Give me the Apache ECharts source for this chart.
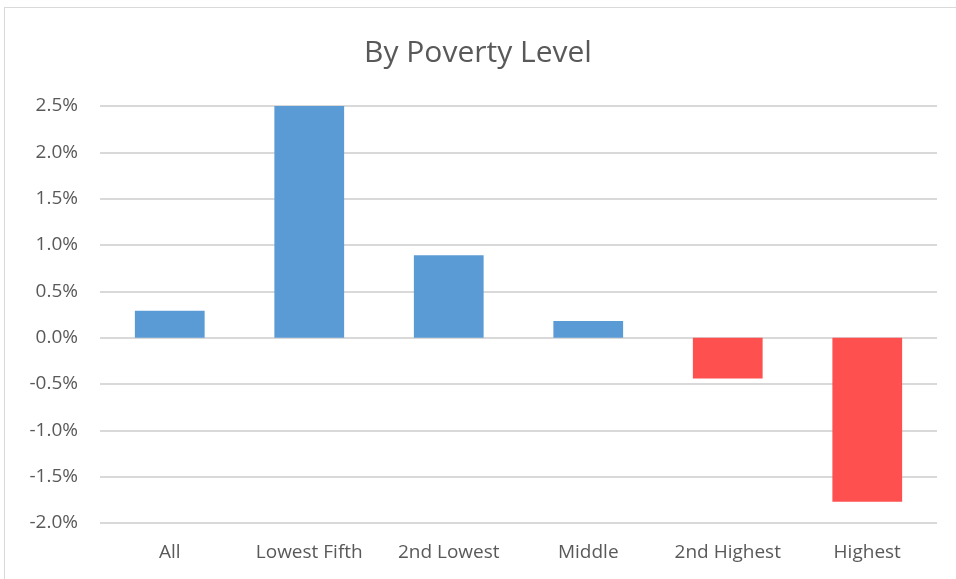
<!DOCTYPE html>
<html>
<head>
<meta charset="utf-8">
<script src="https://cdn.jsdelivr.net/npm/echarts@6/dist/echarts.min.js"></script>
<style>
  html, body { margin: 0; padding: 0; background: #fff; }
  #wrap { position: relative; width: 956px; height: 579px; }
  #chart { position: absolute; left: 0; top: 0; width: 956px; height: 579px; }
  #frame { position: absolute; left: 4px; top: 7px; width: 960px; height: 600px;
           border: 1px solid #d9d9d9; pointer-events: none; }
</style>
</head>
<body>
<div id="wrap">
  <div id="chart"></div>
  <div id="frame"></div>
</div>
<script>
// categories and percent change values
const categories = ['All', 'Lowest Fifth', '2nd Lowest', 'Middle', '2nd Highest', 'Highest']
const values = [0.29, 2.5, 0.89, 0.18, -0.44, -1.77]
const yTicks = [-2.0, -1.5, -1.0, -0.5, 0.0, 0.5, 1.0, 1.5, 2.0, 2.5]

const blue = '#5b9bd5'
const red = '#ff5050'
const textColor = '#595959'
const font = 'Open Sans'

const chart = echarts.init(document.getElementById('chart'))
chart.setOption({
  animation: false,
  title: {
    text: 'By Poverty Level',
    left: 'center',
    top: 33,
    textStyle: { fontFamily: font, fontSize: 30, fontWeight: 'normal', color: textColor }
  },
  grid: { left: 100, right: 19, top: 106, bottom: 56 },
  xAxis: {
    type: 'category',
    data: categories,
    axisLine: { show: false, onZero: false },
    axisTick: { show: false },
    axisLabel: { fontFamily: font, fontSize: 19, color: textColor, margin: 20 }
  },
  yAxis: {
    type: 'value',
    min: yTicks[0],
    max: yTicks[yTicks.length - 1],
    interval: 0.5,
    axisLine: { show: false },
    axisTick: { show: false },
    splitLine: { lineStyle: { color: '#d9d9d9', width: 2 } },
    axisLabel: {
      fontFamily: font, fontSize: 19, color: textColor, margin: 22,
      formatter: function (v) { return v.toFixed(1) + '%' }
    }
  },
  series: [{
    type: 'bar',
    data: values,
    barWidth: '50%',
    itemStyle: {
      color: function (p) { return p.value < 0 ? red : blue }
    }
  }]
})
</script>
</body>
</html>
